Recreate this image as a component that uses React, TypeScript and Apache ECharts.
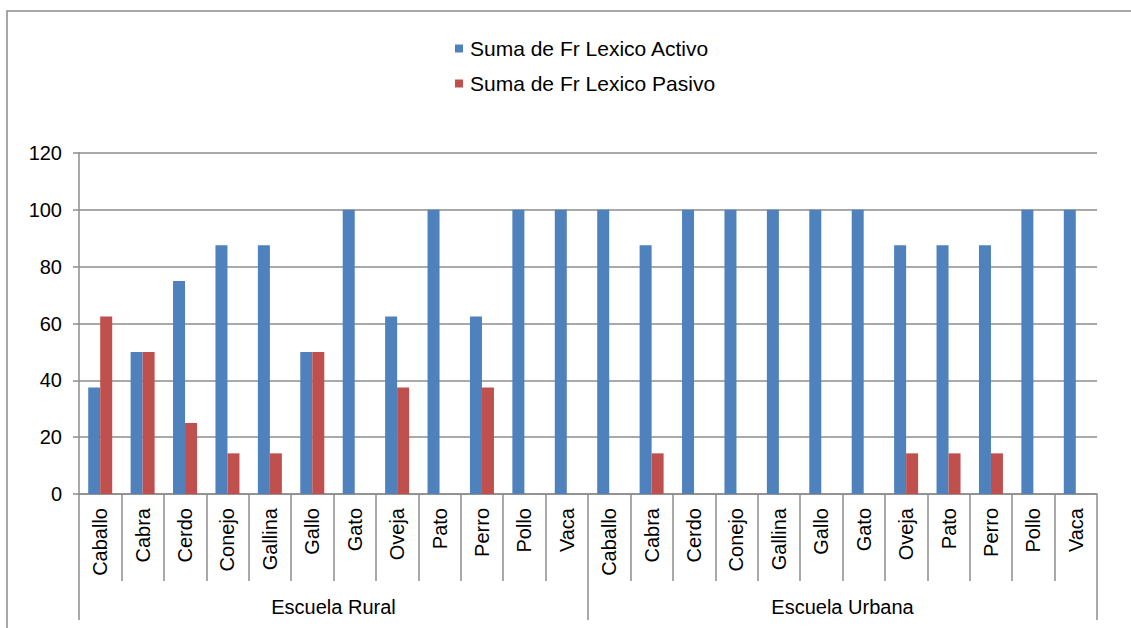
import React, { useEffect, useRef } from "react";
import * as echarts from "echarts";

const animals = ["Caballo", "Cabra", "Cerdo", "Conejo", "Gallina", "Gallo", "Gato", "Oveja", "Pato", "Perro", "Pollo", "Vaca"];
const groups = ["Escuela Rural", "Escuela Urbana"];
const categories = [...animals, ...animals];
const activo = [37.5, 50, 75, 87.5, 87.5, 50, 100, 62.5, 100, 62.5, 100, 100,
  100, 87.5, 100, 100, 100, 100, 100, 87.5, 87.5, 87.5, 100, 100];
const pasivo = [62.5, 50, 25, 14.3, 14.3, 50, null, 37.5, null, 37.5, null, null,
  null, 14.3, null, null, null, null, null, 14.3, 14.3, 14.3, null, null];
const yTicks = { min: 0, max: 120, interval: 20 };

const FONT = "'Liberation Sans', Arial, sans-serif";
const GRAY = "#8c8c8c";

export default function App() {
  const ref = useRef<HTMLDivElement>(null);
  useEffect(() => {
    const chart = echarts.init(ref.current!, null, { renderer: "svg" });
    chart.setOption({
      animation: false,
      textStyle: { fontFamily: FONT },
      legend: {
        orient: "vertical",
        left: 450,
        top: 33,
        itemWidth: 8,
        itemHeight: 8,
        itemGap: 14,
        icon: "rect",
        textStyle: { fontSize: 21, color: "#000", fontFamily: FONT, padding: [0, 0, 0, 2] },
        data: ["Suma de Fr Lexico Activo", "Suma de Fr Lexico Pasivo"],
      },
      grid: { left: 79, right: 34, top: 153, bottom: 134, containLabel: false },
      xAxis: [
        {
          type: "category",
          data: categories,
          position: "bottom",
          axisLine: { lineStyle: { color: GRAY, width: 1.5 } },
          axisTick: { show: true, interval: 0, length: 87, lineStyle: { color: GRAY, width: 1.5 } },
          axisLabel: { interval: 0, rotate: 90, margin: 14, fontSize: 20, color: "#000", fontFamily: FONT },
        },
        {
          type: "category",
          data: groups,
          position: "bottom",
          offset: 87,
          axisLine: { show: false },
          axisTick: { show: true, interval: 0, length: 39, lineStyle: { color: GRAY, width: 1.5 } },
          axisLabel: { interval: 0, margin: 16, fontSize: 20, color: "#000", fontFamily: FONT },
        },
      ],
      yAxis: {
        type: "value",
        min: yTicks.min,
        max: yTicks.max,
        interval: yTicks.interval,
        axisLine: { show: true, lineStyle: { color: GRAY, width: 1.5 } },
        axisTick: { show: true, length: 6, lineStyle: { color: GRAY, width: 1.5 } },
        axisLabel: { margin: 17, fontSize: 20, color: "#000", fontFamily: FONT },
        splitLine: { lineStyle: { color: GRAY, width: 1.5 } },
      },
      series: [
        {
          name: "Suma de Fr Lexico Activo",
          type: "bar",
          xAxisIndex: 0,
          data: activo,
          barWidth: 12,
          barGap: "0%",
          itemStyle: { color: "#4F81BD" },
        },
        {
          name: "Suma de Fr Lexico Pasivo",
          type: "bar",
          xAxisIndex: 0,
          data: pasivo,
          barWidth: 12,
          barGap: "0%",
          itemStyle: { color: "#C0504D" },
        },
      ],
      graphic: [
        {
          type: "rect",
          shape: { x: 7, y: 11, width: 1300, height: 800 },
          style: { fill: "none", stroke: GRAY, lineWidth: 1.5 },
          silent: true,
        },
      ],
    });
    return () => chart.dispose();
  }, []);
  return (
    <div
      ref={ref}
      style={{ position: "fixed", left: 0, top: 0, width: 1131, height: 628, background: "#fff" }}
    />
  );
}
